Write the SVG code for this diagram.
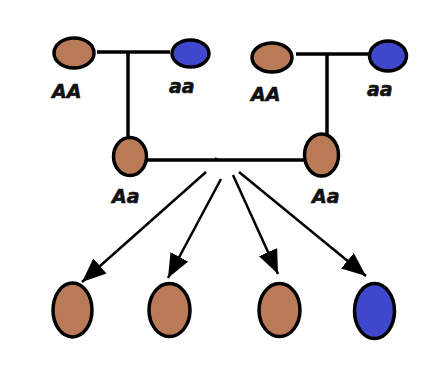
<svg xmlns="http://www.w3.org/2000/svg" width="444" height="375" viewBox="0 0 444 375">
<style>
.b{fill:#b97a57;stroke:#000;stroke-width:3.5}
.u{fill:#3f48cc;stroke:#000;stroke-width:3.5}
.l{stroke:#000;stroke-width:3.5;fill:none}
.a{stroke:#000;stroke-width:2.5;fill:none}
.t{font-family:"DejaVu Sans",sans-serif;font-weight:bold;font-style:italic;font-size:19px;fill:#111;stroke:#111;stroke-width:0.6}
</style>
<defs>
<marker id="ah" markerUnits="userSpaceOnUse" markerWidth="26" markerHeight="22" refX="24" refY="10" orient="auto">
<path d="M0,0 L24,10 L0,20 Z" fill="#000"/>
</marker>
</defs>
<rect width="444" height="375" fill="#fff"/>
<g id="connectors">
<path class="l" d="M97,52 H170 M128,52 V136"/>
<path class="l" d="M296,54 H368 M327,54 V134"/>
<path class="l" d="M147,160 H304"/>
<path class="l" d="M216,160 l1,-2" stroke-width="1.5"/>
<path class="a" d="M206,172 L82,282" marker-end="url(#ah)"/>
<path class="a" d="M221,179 L168,278" marker-end="url(#ah)"/>
<path class="a" d="M233,175 L278,274" marker-end="url(#ah)"/>
<path class="a" d="M239,172 L366,276" marker-end="url(#ah)"/>
</g>
<g id="p1"><ellipse class="b" cx="74" cy="53" rx="20" ry="15"/><text class="t" x="52" y="98">AA</text></g>
<g id="p2"><ellipse class="u" cx="190.5" cy="53.5" rx="18.5" ry="13.5"/><text class="t" x="169" y="93">aa</text></g>
<g id="p3"><ellipse class="b" cx="272" cy="57.5" rx="20" ry="14.5"/><text class="t" x="251" y="101">AA</text></g>
<g id="p4"><ellipse class="u" cx="388" cy="56" rx="18.5" ry="15"/><text class="t" x="367" y="96">aa</text></g>
<g id="f1"><ellipse class="b" cx="130" cy="156.5" rx="16.5" ry="19"/><text class="t" x="112" y="203">Aa</text></g>
<g id="f2"><ellipse class="b" cx="321.5" cy="155" rx="17" ry="21"/><text class="t" x="312" y="203">Aa</text></g>
<g id="c1"><ellipse class="b" cx="72.5" cy="310" rx="19.5" ry="27"/></g>
<g id="c2"><ellipse class="b" cx="169.5" cy="310" rx="20.5" ry="26.5"/></g>
<g id="c3"><ellipse class="b" cx="279.5" cy="310" rx="20.5" ry="26.5"/></g>
<g id="c4"><ellipse class="u" cx="374.5" cy="311" rx="20" ry="27.5"/></g>
</svg>
